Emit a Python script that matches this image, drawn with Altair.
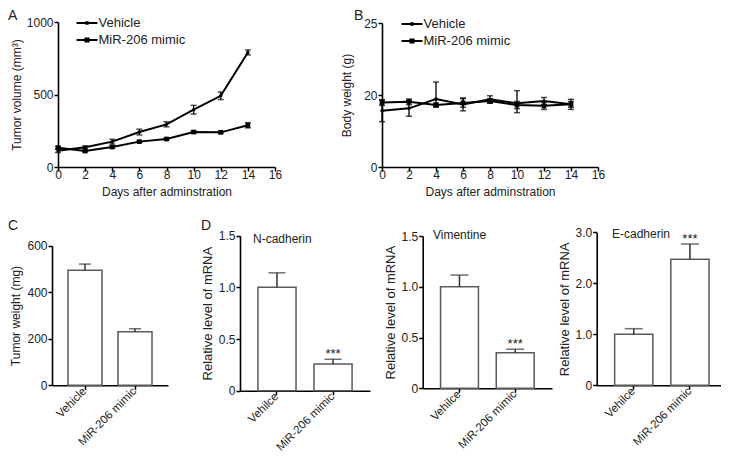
import altair as alt
import pandas as pd

FONT = "Liberation Sans"
W, H = 713, 445  # canvas (page minus 8px margin on each side)

# ---------------- data ----------------
days = [0, 2, 4, 6, 8, 10, 12, 14]
series = ["Vehicle", "MiR-206 mimic"]

# Panel A: tumor volume (mm3)
vol_vehicle = [112, 136, 175, 241, 294, 395, 491, 790]
vol_vehicle_err = [12, 10, 16, 20, 17, 30, 26, 17]
vol_mimic = [133, 110, 138, 175, 193, 241, 239, 288]
vol_mimic_err = [10, 6, 7, 6, 6, 8, 6, 18]

# Panel B: body weight (g)
bw_vehicle = [15.6, 16.3, 18.9, 17.4, 18.8, 17.7, 18.3, 17.4]
bw_vehicle_err = [3.0, 2.2, 2.0, 1.8, 1.0, 2.6, 1.0, 1.4]
bw_mimic = [17.9, 18.1, 17.2, 17.8, 18.3, 17.2, 17.0, 17.4]
bw_mimic_err = [0.8, 0.8, 0.6, 1.2, 0.6, 1.0, 1.0, 0.8]

# Panel C: tumor weight (mg)
c_groups = ["Vehicle", "MiR-206 mimic"]
c_weight = [495, 230]
c_weight_err = [26, 13]

# Panel D: relative mRNA
d_groups = ["Vehilce", "MiR-206 mimic"]
d_sig = ["", "***"]
ncad = [1.0, 0.258]
ncad_err = [0.14, 0.046]
vim = [1.0, 0.351]
vim_err = [0.115, 0.034]
ecad = [1.0, 2.47]
ecad_err = [0.11, 0.30]

# legend symbols: filled line segment with marker
PATH_VEH = "M-2.5,-0.24H2.5V0.24H-2.5Z M-0.4,-0.4H0.4V0.4H-0.4Z"
PATH_MIM = "M-2.5,-0.24H2.5V0.24H-2.5Z M-0.62,-0.62H0.62V0.62H-0.62Z"


def line_panel(v, ve, m, me, ydomain, yrange, yvalues, ytitle, xrange, legxy, ytpad):
    df = pd.DataFrame({
        "day": days * 2,
        "value": v + m,
        "err": ve + me,
        "group": [series[0]] * len(days) + [series[1]] * len(days),
    })
    df["lo"] = df["value"] - df["err"]
    df["hi"] = df["value"] + df["err"]
    base = alt.Chart(df)
    xax = alt.Axis(orient="bottom", offset=yrange[0] - H,
                   values=list(range(0, 17, 2)), title="Days after adminstration",
                   labelFlush=False, labelPadding=-2, titlePadding=6)
    yax = alt.Axis(orient="left", offset=-xrange[0], values=yvalues, format="d",
                   title=ytitle, labelFlush=False, labelPadding=1, titlePadding=ytpad)
    xsc = alt.Scale(domain=[0, 16], range=xrange, nice=False, zero=False)
    ysc = alt.Scale(domain=ydomain, range=yrange, nice=False, zero=False)
    xs = alt.X("day:Q", scale=xsc, axis=xax)

    def yy(f):
        return alt.Y(f + ":Q", scale=ysc, axis=yax)

    lines = base.mark_line(color="black", strokeWidth=2).encode(x=xs, y=yy("value"), detail="group:N")
    rules = base.mark_rule(color="black", strokeWidth=1.3).encode(x=xs, y=yy("lo"), y2="hi:Q")
    cap_hi = base.mark_tick(orient="horizontal", color="black", size=6, thickness=1.5).encode(
        x=xs, y=yy("hi"))
    cap_lo = base.mark_tick(orient="horizontal", color="black", size=6, thickness=1.5).encode(
        x=xs, y=yy("lo"))
    pts_v = base.transform_filter(alt.datum.group == series[0]).mark_point(
        shape="circle", filled=True, size=12, color="black", opacity=1).encode(x=xs, y=yy("value"))
    pts_m = base.transform_filter(alt.datum.group == series[1]).mark_point(
        shape="square", filled=True, size=22, color="black", opacity=1).encode(x=xs, y=yy("value"))
    leg = base.transform_filter("datum.day < 0").mark_point(
        filled=True, color="black", opacity=1).encode(
        x=xs, y=yy("value"),
        shape=alt.Shape("group:N",
                        scale=alt.Scale(domain=series, range=[PATH_VEH, PATH_MIM]),
                        legend=alt.Legend(orient="none", legendX=legxy[0], legendY=legxy[1],
                                          title=None, symbolSize=70, symbolStrokeWidth=0,
                                          symbolStrokeColor="black", symbolFillColor="black",
                                          labelFont=FONT, labelFontSize=13, labelColor="#222",
                                          labelOffset=5, rowPadding=3, padding=0,
                                          symbolOpacity=1)))
    return alt.layer(lines, rules, cap_hi, cap_lo, pts_v, pts_m, leg)


def bar_panel(cats, vals, errs, sig, ydomain, yrange, yvalues, labexpr, ytitle, xrange, cap, tfs):
    df = pd.DataFrame({"cat": cats, "value": vals, "err": errs, "sig": sig})
    df["hi"] = df["value"] + df["err"]
    base = alt.Chart(df)
    xax = alt.Axis(orient="bottom", offset=yrange[0] - H, labelAngle=-45,
                   labelAlign="right", labelBaseline="middle", title=None,
                   labelPadding=0, tickSize=4, labelOverlap=False, labelFontSize=11.5)
    yax = alt.Axis(orient="left", offset=-xrange[0], values=yvalues,
                   labelExpr=labexpr, title=ytitle, labelPadding=1, titlePadding=4,
                   titleFontSize=tfs)
    xsc = alt.Scale(domain=cats, range=xrange, paddingInner=0.32, paddingOuter=0.32)
    ysc = alt.Scale(domain=ydomain, range=yrange, nice=False, zero=True)
    xs = alt.X("cat:N", sort=cats, scale=xsc, axis=xax)

    def yy(f):
        return alt.Y(f + ":Q", scale=ysc, axis=yax)

    bars = base.mark_bar(fill="white", stroke="#5a5a5a", strokeWidth=1.5).encode(x=xs, y=yy("value"))
    rule = base.mark_rule(color="#333", strokeWidth=1.5).encode(x=xs, y=yy("value"), y2="hi:Q")
    capm = base.mark_tick(orient="horizontal", color="#333", size=cap, thickness=1.5).encode(
        x=xs, y=yy("hi"))
    stars = base.mark_text(font=FONT, fontSize=13, color="#222", baseline="alphabetic", dy=-1).encode(
        x=xs, y=yy("hi"), text="sig:N")
    return alt.layer(bars, rule, capm, stars)


def label(txt, x, y, size=12, baseline="alphabetic"):
    return alt.Chart(pd.DataFrame({"t": [txt]})).mark_text(
        font=FONT, fontSize=size, color="#222", align="left", baseline=baseline).encode(
        text="t:N", x=alt.value(x), y=alt.value(y))


panelA = line_panel(vol_vehicle, vol_vehicle_err, vol_mimic, vol_mimic_err,
                    [0, 1000], [159, 14], [0, 500, 1000], "Tumor  volume (mm³)",
                    [50, 267], (72.5, 8.5), 3)
panelB = line_panel(bw_vehicle, bw_vehicle_err, bw_mimic, bw_mimic_err,
                    [0, 20, 25], [159, 87, 15], [0, 20, 25], "Body weight (g)",
                    [374, 590], (397.5, 9.5), 10)
panelC = bar_panel(c_groups, c_weight, c_weight_err, ["", ""], [0, 600], [377.3, 237.7],
                   [0, 200, 400, 600], "format(datum.value, 'd')", "Tumor weight (mg)",
                   [44, 160], 12, 12)
fmt1 = "datum.value == 0 ? '0' : format(datum.value, '.1f')"
panelD1 = bar_panel(d_groups, ncad, ncad_err, d_sig, [0, 1.5], [382.7, 227.6],
                    [0, 0.5, 1.0, 1.5], fmt1, "Relative level of mRNA", [232, 362], 17, 13)
panelD2 = bar_panel(d_groups, vim, vim_err, d_sig, [0, 1.5], [380.3, 228],
                    [0, 0.5, 1.0, 1.5], fmt1, "Relative level of mRNA", [414.7, 544], 18, 13)
panelD3 = bar_panel(d_groups, ecad, ecad_err, d_sig, [0, 3], [377.3, 224.3],
                    [0, 1, 2, 3], fmt1, "Relative level of mRNA", [588.7, 719], 18, 13)

texts = [
    label("A", 0, 1, 14, "top"), label("B", 346, 1, 14, "top"),
    label("C", 0, 222, 14), label("D", 193, 222, 14),
    label("N-cadherin", 245, 235), label("Vimentine", 425, 231), label("E-cadherin", 604, 230),
]

chart = alt.layer(panelA, panelB, panelC, panelD1, panelD2, panelD3, *texts).resolve_scale(
    x="independent", y="independent", shape="independent"
).resolve_axis(x="independent", y="independent").resolve_legend(shape="independent").properties(
    width=W, height=H, autosize=alt.AutoSizeParams(type="none"), padding=0
).configure_view(strokeWidth=0).configure_axis(
    grid=False, domainColor="black", domainWidth=1.6, tickColor="black", tickWidth=1.5,
    tickSize=4, labelFont=FONT, labelFontSize=12, labelColor="#222", titleFont=FONT,
    titleFontSize=12, titleFontWeight="normal", titleColor="#222"
)

chart.save("out.html", embed_options={"renderer": "svg", "actions": False})
